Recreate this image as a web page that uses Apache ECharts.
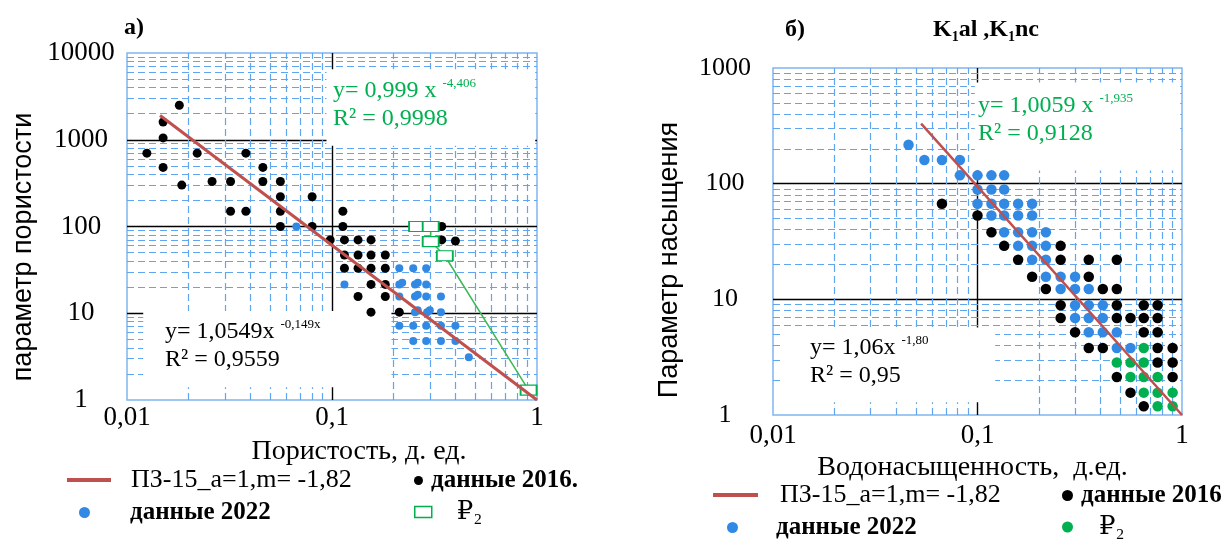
<!DOCTYPE html>
<html>
<head>
<meta charset="utf-8">
<script src="https://cdn.jsdelivr.net/npm/echarts@6/dist/echarts.min.js"></script>
<style>
html,body{margin:0;padding:0;background:#fff;}
#wrap{position:relative;width:1230px;height:539px;overflow:hidden;background:#fff;}
#ca{position:absolute;left:0;top:0;width:615px;height:539px;}
#cb{position:absolute;left:615px;top:0;width:615px;height:539px;}
</style>
</head>
<body>
<div id="wrap"><div id="ca"></div><div id="cb"></div></div>
<script>
// ---------------- DATA: panel а) ----------------
const aRedLine = [[0.0145, 1900], [1, 1]];
const aBlack2016 = [
  [0.018,2500],[0.015,1600],[0.015,1050],
  [0.0125,700],[0.022,700],[0.038,700],
  [0.015,480],[0.046,480],
  [0.0185,300],[0.026,330],[0.032,330],[0.046,330],[0.056,330],
  [0.056,220],[0.08,220],
  [0.032,150],[0.038,150],[0.056,150],[0.113,150],
  [0.056,100],[0.08,100],[0.113,100],[0.343,100],
  [0.098,70],[0.115,70],[0.134,70],[0.155,70],[0.343,70],[0.4,68],
  [0.115,47],[0.134,47],[0.155,47],[0.182,47],
  [0.115,33],[0.134,33],[0.155,33],[0.182,33],
  [0.155,21.5],[0.182,21.5],
  [0.134,15.6],[0.182,15.6],
  [0.155,10.3],[0.213,10.3]
];
const aBlue2022 = [
  [0.067,100],
  [0.213,33],[0.249,33],[0.288,33],
  [0.115,21.5],[0.213,21.5],[0.254,21.5],[0.288,21.5],
  [0.213,15.6],[0.254,15.6],[0.288,15.6],[0.34,15.6],
  [0.254,10.3],[0.291,10.3],[0.34,10.3],
  [0.213,7.2],[0.249,7.2],[0.288,7.2],[0.34,7.2],[0.4,7.2],
  [0.249,4.8],[0.288,4.8],[0.34,4.8],[0.4,4.8],
  [0.465,3.1],
  [0.22,22.5],[0.262,22.5],[0.262,16.3],[0.262,10.8],[0.3,10.8]
];
const aP2 = [[0.26,100],[0.303,100],[0.303,67],[0.355,46],[0.91,1.3]];

// ---------------- DATA: panel б) ----------------
const bRedLine = [[0.053, 330], [1, 1]];
const bBlue2022 = [
  [0.046,217],
  [0.055,160],[0.067,160],[0.082,160],
  [0.082,118],[0.1,118],[0.117,118],[0.135,118],
  [0.1,89],[0.117,89],[0.135,89],
  [0.1,67],[0.117,67],[0.135,67],[0.158,67],[0.185,67],
  [0.117,53],[0.135,53],[0.158,53],[0.185,53],
  [0.135,38],[0.158,38],[0.185,38],[0.216,38],
  [0.158,29],[0.185,29],[0.216,29],
  [0.185,22],[0.216,22],
  [0.216,15.7],[0.255,15.7],[0.3,15.7],
  [0.255,12.3],[0.3,12.3],[0.35,12.3],
  [0.3,8.9],[0.35,8.9],[0.41,8.9],
  [0.3,6.9],[0.35,6.9],[0.41,6.9],
  [0.35,5.2],[0.41,5.2],[0.48,5.2],
  [0.48,3.8],[0.56,3.8]
];
const bBlack2016 = [
  [0.067,67],
  [0.1,53],
  [0.117,38],
  [0.135,29],[0.255,29],
  [0.158,22],[0.255,22],[0.35,22],[0.48,22],
  [0.185,15.7],[0.35,15.7],
  [0.216,12.3],[0.41,12.3],[0.48,12.3],
  [0.255,8.9],[0.48,8.9],[0.65,8.9],[0.76,8.9],
  [0.255,6.9],[0.48,6.9],[0.56,6.9],[0.65,6.9],[0.76,6.9],
  [0.3,5.2],[0.65,5.2],[0.76,5.2],
  [0.35,3.8],[0.41,3.8],[0.76,3.8],[0.9,3.8],
  [0.76,2.84],[0.9,2.84],
  [0.48,2.13],[0.9,2.13],
  [0.56,1.56],
  [0.65,1.19]
];
const bP2 = [
  [0.65,3.8],
  [0.48,2.84],[0.56,2.84],[0.65,2.84],
  [0.56,2.13],[0.65,2.13],[0.76,2.13],
  [0.65,1.56],[0.76,1.56],[0.9,1.56],
  [0.76,1.19],[0.9,1.19]
];

// ---------------- minor grid values (log 2..9 per decade) ----------------
const minorX = [0.02,0.03,0.04,0.05,0.06,0.07,0.08,0.09,0.2,0.3,0.4,0.5,0.6,0.7,0.8,0.9];
const aMinorY = [2,3,4,5,6,7,8,9,20,30,40,50,60,70,80,90,200,300,400,500,600,700,800,900,2000,3000,4000,5000,6000,7000,8000,9000];
const bMinorY = [2,3,4,5,6,7,8,9,20,30,40,50,60,70,80,90,200,300,400,500,600,700,800,900];
// areas of the source picture where the dashed grid is blank
const aBlank = [[[0.094,850],[0.98,6500]], [[0.012,1.4],[0.195,10.6]]];
const bBlank = [[[0.097,130],[0.98,750]], [[0.0112,1.29],[0.122,5.7]]];

// ---------------- styles ----------------
const SERIF = '"Liberation Serif","Times New Roman","DejaVu Serif",serif';
const SANS = '"Liberation Sans",Arial,sans-serif';
const BORDER = '#7fb7ef';
const DASH = '#5fa6ee';
const RED = '#C0504D';
const BLUE = '#3189e4';
const GREEN = '#00b050';

function xAxisCfg(name, nameGap, namePad, labelMargin) {
  return {
    type: 'log', logBase: 10, min: 0.01, max: 1,
    axisLine: {show: false}, axisTick: {show: false},
    axisLabel: {formatter: v => String(v).replace('.', ','), fontFamily: SERIF, fontSize: 27, color: '#000', margin: labelMargin, showMinLabel: true, showMaxLabel: true},
    splitLine: {show: true, showMinLine: false, showMaxLine: false, lineStyle: {color: '#000', width: 1.4}},
    name: name, nameLocation: 'middle', nameGap: nameGap,
    nameTextStyle: {fontFamily: SERIF, fontSize: 28, color: '#000', padding: namePad}
  };
}
function yAxisCfg(max, labelMargin, fs) {
  return {
    type: 'log', logBase: 10, min: 1, max: max,
    axisLine: {show: false}, axisTick: {show: false},
    axisLabel: {formatter: v => String(Math.round(v)), fontFamily: SERIF, fontSize: fs, color: '#000', align: 'center', verticalAlign: 'middle', margin: labelMargin, showMinLabel: true, showMaxLabel: true},
    splitLine: {show: true, showMinLine: false, showMaxLine: false, lineStyle: {color: '#000', width: 1.4}}
  };
}
function gridMarks(minorY, blank) {
  return {
    markLine: {
      silent: true, z: 1, animation: false, symbol: ['none', 'none'],
      label: {show: false}, emphasis: {disabled: true},
      lineStyle: {color: DASH, type: [7, 4], width: 1.2},
      data: minorX.map(v => ({xAxis: v})).concat(minorY.map(v => ({yAxis: v})))
    },
    markArea: {
      silent: true, z: 2, animation: false,
      label: {show: false}, emphasis: {disabled: true},
      itemStyle: {color: '#ffffff', opacity: 1, borderWidth: 0},
      data: blank.map(r => [{coord: r[0]}, {coord: r[1]}])
    }
  };
}
function legendOne(item, left, top, w, h, padLeft, bold) {
  return {
    data: [item], left: left, top: top, itemWidth: w, itemHeight: h, padding: 0,
    selectedMode: false,
    textStyle: {fontFamily: SERIF, fontSize: bold ? 25 : 26, fontWeight: bold ? 'bold' : 'normal', color: '#000', padding: [0, 0, 0, padLeft]}
  };
}
function eqGraphic(left, top, l1, sup, l2, color) {
  return {
    type: 'text', left: left, top: top, z: 20,
    style: {
      text: '{m|' + l1 + '}{s|' + sup + '}\n{m|' + l2 + '}',
      rich: {
        m: {fontFamily: SERIF, fontSize: 24, lineHeight: 28, fill: color},
        s: {fontFamily: SERIF, fontSize: 13, lineHeight: 14, fill: color, verticalAlign: 'top'}
      }
    }
  };
}

// ---------------- chart а) ----------------
const chartA = echarts.init(document.getElementById('ca'), null, {renderer: 'canvas'});
const ma = gridMarks(aMinorY, aBlank);
chartA.setOption({
  animation: false,
  grid: {left: 127, top: 53, width: 410, height: 347, show: true, borderColor: BORDER, borderWidth: 1.5, backgroundColor: 'transparent'},
  xAxis: xAxisCfg('Пористость, д. ед.', 38, [0, 0, 0, 54], 4),
  yAxis: yAxisCfg(10000, 46, 27),
  legend: [
    legendOne({name: 'ПЗ-15_a=1,m= -1,82', icon: 'rect', itemStyle: {color: RED}}, 67, 467, 44, 4, 15, false),
    legendOne({name: 'данные 2016.', icon: 'circle', itemStyle: {color: '#000'}}, 414, 468, 9, 9, 3, true),
    legendOne({name: 'данные 2022', icon: 'circle', itemStyle: {color: BLUE}}, 79, 500, 11, 11, 35, true),
    legendOne({name: '₽₂', icon: 'rect', itemStyle: {color: '#fff', borderColor: GREEN, borderWidth: 1.5}}, 414, 499, 17, 11, 20, false)
  ],
  graphic: [
    {type: 'text', left: 124, top: 16, style: {text: 'а)', fontFamily: SERIF, fontSize: 24, fontWeight: 'bold', fill: '#000'}},
    eqGraphic(333, 77, 'y= 0,999 x ', '-4,406', 'R² = 0,9998', GREEN),
    eqGraphic(165, 318, 'y= 1,0549x ', '-0,149x', 'R² = 0,9559', '#000'),
    {type: 'text', x: 24, y: 247, rotation: Math.PI / 2, style: {text: 'параметр пористости', fontFamily: SANS, fontSize: 27, fill: '#000', align: 'center', verticalAlign: 'middle'}}
  ],
  series: [
    Object.assign({name: 'данные 2016.', type: 'scatter', data: aBlack2016, symbolSize: 9, itemStyle: {color: '#000', opacity: 1}, z: 3, silent: true}, ma),
    {name: 'данные 2022', type: 'scatter', data: aBlue2022, symbolSize: 8, itemStyle: {color: BLUE, opacity: 1}, z: 3, silent: true},
    {name: '₽₂', type: 'line', data: aP2, symbol: 'rect', symbolSize: [16, 10], showSymbol: true,
     itemStyle: {color: '#fff', borderColor: GREEN, borderWidth: 1.5}, lineStyle: {color: '#3cb854', width: 1.5}, z: 4, silent: true},
    {name: 'ПЗ-15_a=1,m= -1,82', type: 'line', data: aRedLine, symbol: 'none', itemStyle: {color: RED}, lineStyle: {color: RED, width: 3}, z: 5, silent: true}
  ]
});

// ---------------- chart б) ----------------
const chartB = echarts.init(document.getElementById('cb'), null, {renderer: 'canvas'});
const mb = gridMarks(bMinorY, bBlank);
chartB.setOption({
  animation: false,
  grid: {left: 158, top: 68, width: 409, height: 347, show: true, borderColor: BORDER, borderWidth: 1.5, backgroundColor: 'transparent'},
  xAxis: xAxisCfg('Водонасыщенность,  д.ед.', 34, [0, 10, 0, 0], 7),
  yAxis: yAxisCfg(1000, 48, 26),
  legend: [
    legendOne({name: 'ПЗ-15_a=1,m= -1,82', icon: 'rect', itemStyle: {color: RED}}, 98, 482, 45, 4, 17, false),
    legendOne({name: 'данные 2016', icon: 'circle', itemStyle: {color: '#000'}}, 447, 483, 11, 11, 3, true),
    legendOne({name: 'данные 2022', icon: 'circle', itemStyle: {color: BLUE}}, 112, 515, 11, 11, 33, true),
    legendOne({name: '₽₂', icon: 'circle', itemStyle: {color: GREEN}}, 447, 514, 11, 11, 21, false)
  ],
  graphic: [
    {type: 'text', left: 170, top: 18, style: {text: 'б)', fontFamily: SERIF, fontSize: 24, fontWeight: 'bold', fill: '#000'}},
    {type: 'text', left: 318, top: 18, style: {
      text: '{k|K}{s|1}{k|al ,K}{s|1}{k|nc}',
      rich: {
        k: {fontFamily: SERIF, fontSize: 24, fontWeight: 'bold', fill: '#000', lineHeight: 28},
        s: {fontFamily: SERIF, fontSize: 14, fontWeight: 'bold', fill: '#000', verticalAlign: 'bottom', lineHeight: 16}
      }}},
    eqGraphic(363, 92, 'y= 1,0059 x ', '-1,935', 'R² = 0,9128', GREEN),
    eqGraphic(195, 334, 'y= 1,06x ', '-1,80', 'R² = 0,95', '#000'),
    {type: 'text', x: 55, y: 260, rotation: Math.PI / 2, style: {text: 'Параметр насыщения', fontFamily: SANS, fontSize: 27, fill: '#000', align: 'center', verticalAlign: 'middle'}}
  ],
  series: [
    Object.assign({name: 'данные 2016', type: 'scatter', data: bBlack2016, symbolSize: 10.5, itemStyle: {color: '#000', opacity: 1}, z: 3, silent: true}, mb),
    {name: 'данные 2022', type: 'scatter', data: bBlue2022, symbolSize: 10.5, itemStyle: {color: BLUE, opacity: 1}, z: 3, silent: true},
    {name: '₽₂', type: 'scatter', data: bP2, symbolSize: 10.5, itemStyle: {color: GREEN, opacity: 1}, z: 3, silent: true},
    {name: 'ПЗ-15_a=1,m= -1,82', type: 'line', data: bRedLine, symbol: 'none', itemStyle: {color: RED}, lineStyle: {color: RED, width: 2.5}, z: 5, silent: true}
  ]
});
</script>
</body>
</html>
